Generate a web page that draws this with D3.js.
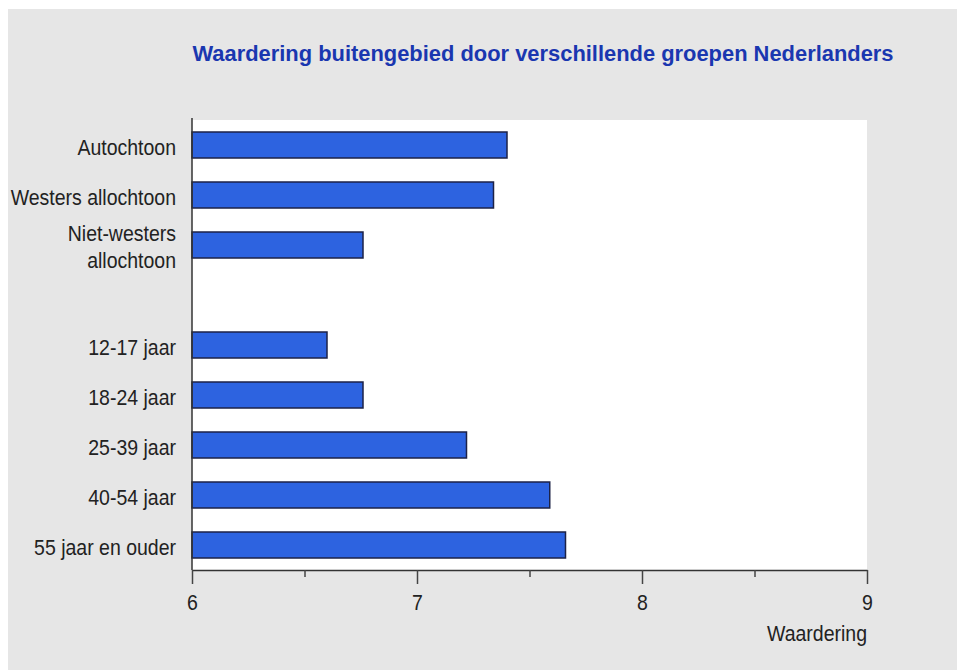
<!DOCTYPE html>
<html><head><meta charset="utf-8">
<script src="https://cdn.jsdelivr.net/npm/d3@7"></script>
<style>body{margin:0;background:#fff}svg{display:block}</style>
</head><body>
<script>
const categories = ["Autochtoon","Westers allochtoon","Niet-westers allochtoon","","12-17 jaar","18-24 jaar","25-39 jaar","40-54 jaar","55 jaar en ouder"];
const labelLines = [["Autochtoon"],["Westers allochtoon"],["Niet-westers","allochtoon"],[],["12-17 jaar"],["18-24 jaar"],["25-39 jaar"],["40-54 jaar"],["55 jaar en ouder"]];
const values = [7.40, 7.34, 6.76, null, 6.60, 6.76, 7.22, 7.59, 7.66];
const majorTicks = [6,7,8,9];
const minorTicks = [6.5,7.5,8.5];
const title = "Waardering buitengebied door verschillende groepen Nederlanders";
const xTitle = "Waardering";

(function(){
const W = 957, H = 670;
const svg = d3.select("body").append("svg").attr("width", W).attr("height", H);
svg.append("rect").attr("x",8).attr("y",9).attr("width",W-8).attr("height",H-9).attr("fill","#e6e6e6");

const pL = 192, pR = 867, pT = 120, pB = 570;
svg.append("rect").attr("x",pL).attr("y",pT).attr("width",pR-pL).attr("height",pB-pT).attr("fill","#fff");

const x = d3.scaleLinear().domain([6,9]).range([pL,pR]);
const y = d3.scaleBand().domain(categories.map((c,i)=>i)).range([pT,pB]).paddingInner(0.48).paddingOuter(0.24);

const font = "'Liberation Sans', Arial, Helvetica, sans-serif";

svg.append("text").attr("x",543).attr("y",61).attr("text-anchor","middle")
  .attr("font-family",font).attr("font-weight","bold").attr("font-size",21.9)
  .attr("fill","#1a37b0").text(title);

svg.append("g").selectAll("rect").data(values.map((v,i)=>({v,i})).filter(d=>d.v!==null)).join("rect")
  .attr("x",x(6)).attr("y",d=>y(d.i)).attr("width",d=>x(d.v)-x(6)).attr("height",y.bandwidth())
  .attr("fill","#2d63e0").attr("stroke","#1c2247").attr("stroke-width",1.5);

const lab = svg.append("g");
labelLines.forEach((lines,i)=>{
  const cy = y(i)+y.bandwidth()/2;
  const n = lines.length;
  lines.forEach((t,j)=>{
    const yy = cy + (j-(n-1)/2)*27 + 2;
    lab.append("text").attr("transform",`translate(176,${yy}) scale(1,1.12)`)
      .attr("text-anchor","end").attr("dominant-baseline","central")
      .attr("font-family",font).attr("font-size",19.5).attr("fill","#222").text(t);
  });
});

svg.append("line").attr("x1",pL).attr("x2",pL).attr("y1",pT-2).attr("y2",pB)
  .attr("stroke","#333").attr("stroke-width",1.5);

const xa = d3.axisBottom(x).tickValues(majorTicks).tickSize(14).tickSizeOuter(0).tickFormat(d3.format("d"));
const gx = svg.append("g").attr("transform",`translate(0,${pB})`).call(xa);
gx.select(".domain").attr("stroke","#333").attr("stroke-width",1.5);
gx.selectAll(".tick line").attr("stroke","#444").attr("stroke-width",1.5);
gx.selectAll(".tick text").attr("y",0).attr("dy",null)
  .attr("transform","translate(0,32) scale(1,1.12)")
  .attr("dominant-baseline","central")
  .attr("font-family",font).attr("font-size",19.5).attr("fill","#222");
const xm = d3.axisBottom(x).tickValues(minorTicks).tickSize(7).tickFormat("");
const gm = svg.append("g").attr("transform",`translate(0,${pB})`).call(xm);
gm.select(".domain").remove();
gm.selectAll(".tick line").attr("stroke","#444").attr("stroke-width",1.5);

svg.append("text").attr("transform",`translate(${pR},633) scale(1,1.12)`)
  .attr("text-anchor","end").attr("dominant-baseline","central")
  .attr("font-family",font).attr("font-size",19.5).attr("fill","#222").text(xTitle);
})();
</script>
</body></html>
